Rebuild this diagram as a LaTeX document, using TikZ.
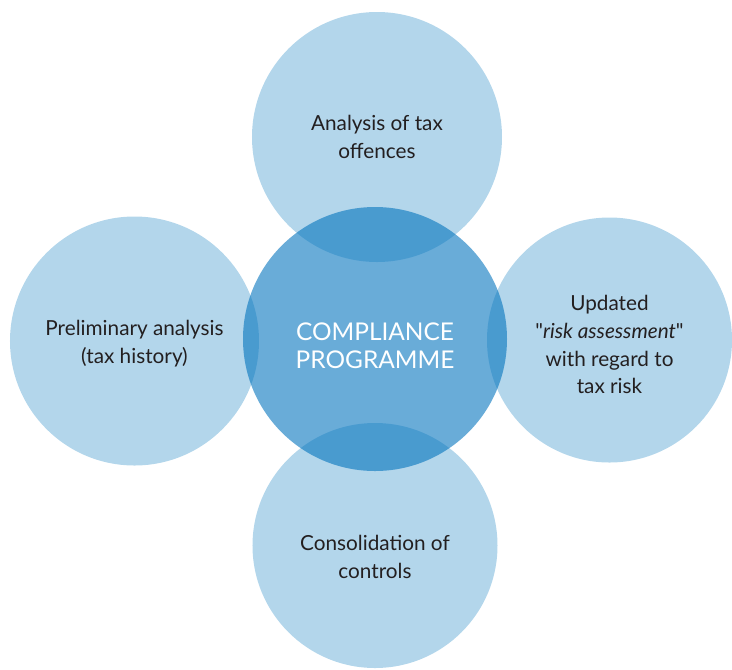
\documentclass[tikz,border=0pt]{standalone}
\usepackage{fontspec}
\setmainfont{Lato}[Ligatures=TeXOff]
\definecolor{petalblue}{RGB}{179,214,235}
\definecolor{hubblue}{RGB}{0,114,189}
\definecolor{inktext}{RGB}{35,31,32}
\begin{document}
\begin{tikzpicture}[
        petal/.style = {circle, fill = petalblue, inner sep = 0pt},
        hub/.style = {circle, fill = hubblue, fill opacity = 0.59, inner sep = 0pt},
        txt/.style = {align = center, text = inktext, font = \fontsize{11.8}{15.9}\selectfont}
    ]
        \useasboundingbox (-7.5,-6.6) rectangle (7.14,6.78);
        \clip (-7.5,-6.6) rectangle (7.14,6.78);
        \begin{scope}[every node/.append style = {petal}]
            \node[minimum size = 5.0cm] (offences) at (0.04,4.04) {};
            \node[minimum size = 4.98cm] (history) at (-4.81,-0.04) {};
            \node[minimum size = 4.9cm] (risk) at (4.69,-0.02) {};
            \node[minimum size = 4.9cm] (controls) at (0,-4.13) {};
        \end{scope}
        \node[hub, minimum size = 5.28cm] (prog) at (0,0) {};
        % labels
        \node[txt] (offences-txt) at (offences) {Analysis of tax\\offences};
        \node[txt, yshift = -0.05cm] (history-txt) at (history) {Preliminary analysis\\(tax history)};
        \node[txt, yshift = -0.09cm] (risk-txt) at (risk) {Updated\\"\textit{risk assessment}"\\with regard to\\tax risk};
        \node[txt, yshift = -0.23cm] (controls-txt) at (controls) {Consolidation of\\controls};
        \node[txt, text = white, yshift = -0.14cm, font = \fontsize{13.9}{15.9}\selectfont] (prog-txt) at (prog) {COMPLIANCE\\PROGRAMME};
\end{tikzpicture}
\end{document}
